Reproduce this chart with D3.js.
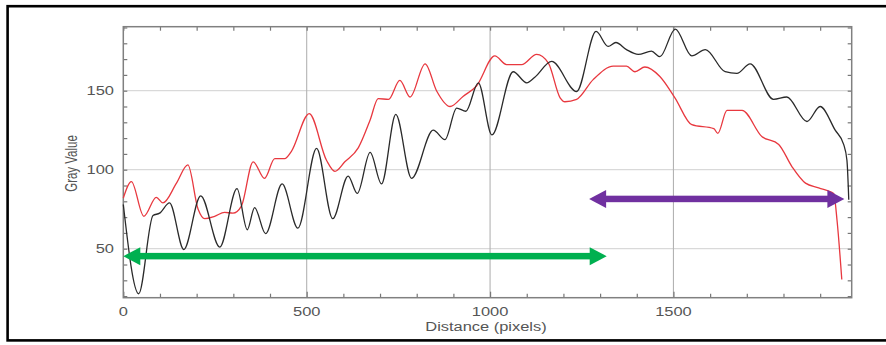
<!DOCTYPE html>
<html>
<head>
<meta charset="utf-8">
<script src="https://cdn.jsdelivr.net/npm/d3@7"></script>
<style>
html,body{margin:0;padding:0;background:#fff;}
svg{display:block;}
</style>
</head>
<body>
<script>
// ---- data ----
const blackX = [0,42,81,99,126,165,211,263,310,338,358,388,433,476,527,571,613,638,673,704,743,786,845,877,909,934,968,1005,1063,1100,1122,1168,1236,1289,1322,1343,1372,1404,1440,1463,1505,1550,1587,1641,1673,1709,1773,1809,1864,1900,1941,1964,1973,1978];
const blackY = [78,21.5,71,72.5,79,49.5,83.5,51,88,62,76,59.5,91,63,113.5,69,96,85,111,91,135,94.5,125,119,139,137,155,122,162,155,158.5,168.5,149.5,187.5,178,180.5,176,173,175,171.5,189,172,176,162,161,167,144.5,146,130.5,140,125,116,106,81];
const redX = [0,22,56,90,108,145,176,204,222,249,276,299,322,354,385,413,440,458,507,554,577,604,641,673,695,723,754,782,823,854,891,927,963,1013,1045,1086,1127,1159,1191,1204,1236,1281,1336,1372,1395,1422,1463,1504,1550,1610,1621,1646,1687,1741,1787,1823,1860,1896,1937,1946,1959];
const redY = [82,92.5,70.5,82.5,79,91.5,103,75,69,70.5,73,72.5,77,105,94.5,107,107,111.5,135.5,106,99,105,114,131.5,145,144.5,156.5,146,167,150,140,146.5,153,172,166.5,166.5,173,167.5,145.5,143,144.5,157,165.5,165.5,162,165,159,145.5,128.5,126,123,137.5,137.5,121,116,102,91.5,88.5,85,68,30.5];
const xTickLabels = [0,500,1000,1500];
const yTickLabels = [50,100,150];
const xLabel = "Distance (pixels)";
const yLabel = "Gray Value";
// annotation arrows (data units)
const arrowStart = [0, 1270];
const arrowEnd = [1318, 1966];
const arrowLevel = [45.3, 81.5];
const arrowColor = ["#00b050", "#7030a0"];

// ---- layout ----
const W = 886, H = 345;
const L = 123.3, R = 851.7, T = 26.7, B = 297.7;
const SX = 1.37; // horizontal stretch of the original image text

const x = d3.scaleLinear().domain([0, 1986]).range([L, R]);
const y = d3.scaleLinear().domain([19, 190.5]).range([B, T]);

const svg = d3.select("body").append("svg").attr("width", W).attr("height", H);
svg.append("rect").attr("width", W).attr("height", H).attr("fill", "#fff");

// outer border
svg.append("rect").attr("x", 7.6).attr("y", 6.2).attr("width", 900).attr("height", 334.2)
  .attr("fill", "none").attr("stroke", "#000").attr("stroke-width", 2.6);

// grid
svg.append("g").selectAll("line").data(yTickLabels).join("line")
  .attr("x1", L).attr("x2", R).attr("y1", d => y(d)).attr("y2", d => y(d))
  .attr("stroke", "#d9d9d9").attr("stroke-width", 1.2);
svg.append("g").selectAll("line").data(xTickLabels.filter(d => d > 0)).join("line")
  .attr("y1", T).attr("y2", B).attr("x1", d => x(d)).attr("x2", d => x(d))
  .attr("stroke", "#b3b3b3").attr("stroke-width", 1.1);

// ticks via d3 axes (inward)
const xt = d3.range(0, 2000, 100);
const yt = d3.range(20, 191, 10);
function styleAxis(g) {
  g.select(".domain").remove();
  g.selectAll("line").attr("stroke", "#777").attr("stroke-width", 1.2);
  g.selectAll("text").remove();
}
svg.append("g").attr("transform", `translate(0,${B})`)
  .call(d3.axisBottom(x).tickValues(xt).tickSize(-4)).call(styleAxis)
  .selectAll(".tick line").attr("y2", d => d % 500 === 0 ? -6 : -4);
svg.append("g").attr("transform", `translate(0,${T})`)
  .call(d3.axisTop(x).tickValues(xt).tickSize(-4)).call(styleAxis);
svg.append("g").attr("transform", `translate(${L},0)`)
  .call(d3.axisLeft(y).tickValues(yt).tickSize(-4)).call(styleAxis);
svg.append("g").attr("transform", `translate(${R},0)`)
  .call(d3.axisRight(y).tickValues(yt).tickSize(-4)).call(styleAxis);

// frame
svg.append("rect").attr("x", L).attr("y", T).attr("width", R - L).attr("height", B - T)
  .attr("fill", "none").attr("stroke", "#808080").attr("stroke-width", 1.5);

// curves
const line = d3.line().curve(d3.curveMonotoneX).x(d => x(d[0])).y(d => y(d[1]));
svg.append("path").datum(redX.map((v, i) => [v, redY[i]]))
  .attr("d", line).attr("fill", "none").attr("stroke", "#e8383f").attr("stroke-width", 1.3)
  .attr("stroke-linejoin", "round");
svg.append("path").datum(blackX.map((v, i) => [v, blackY[i]]))
  .attr("d", line).attr("fill", "none").attr("stroke", "#2a2a2a").attr("stroke-width", 1.3)
  .attr("stroke-linejoin", "round");

// tick labels
const font = "'Liberation Sans', Arial, sans-serif";
svg.append("g").selectAll("text").data(xTickLabels).join("text")
  .attr("transform", d => `translate(${x(d)},316) scale(${SX},1)`)
  .attr("text-anchor", "middle").attr("font-family", font).attr("font-size", 12)
  .attr("fill", "#555").text(d => d);
svg.append("g").selectAll("text").data(yTickLabels).join("text")
  .attr("transform", d => `translate(114,${y(d) + 4.3}) scale(${SX},1)`)
  .attr("text-anchor", "end").attr("font-family", font).attr("font-size", 12)
  .attr("fill", "#555").text(d => d);

// axis titles
svg.append("text").attr("transform", `translate(486,330.5) scale(${SX},1)`)
  .attr("text-anchor", "middle").attr("font-family", font).attr("font-size", 12)
  .attr("fill", "#555").text(xLabel);
svg.append("text").attr("transform", `translate(76.5,163.5) scale(${SX},1) rotate(-90)`)
  .attr("text-anchor", "middle").attr("font-family", font).attr("font-size", 11.5)
  .attr("fill", "#555").text(yLabel);

// arrows
const headL = 17, headH = 9, shaft = 6.5;
arrowStart.forEach((s, i) => {
  const x1 = x(s), x2 = x(arrowEnd[i]), yy = y(arrowLevel[i]);
  const g = svg.append("g").attr("fill", arrowColor[i]);
  g.append("rect").attr("x", x1 + headL - 1).attr("y", yy - shaft / 2)
    .attr("width", x2 - x1 - 2 * headL + 2).attr("height", shaft);
  g.append("path").attr("d", `M${x1},${yy}L${x1 + headL},${yy - headH}L${x1 + headL},${yy + headH}Z`);
  g.append("path").attr("d", `M${x2},${yy}L${x2 - headL},${yy - headH}L${x2 - headL},${yy + headH}Z`);
});
</script>
</body>
</html>
